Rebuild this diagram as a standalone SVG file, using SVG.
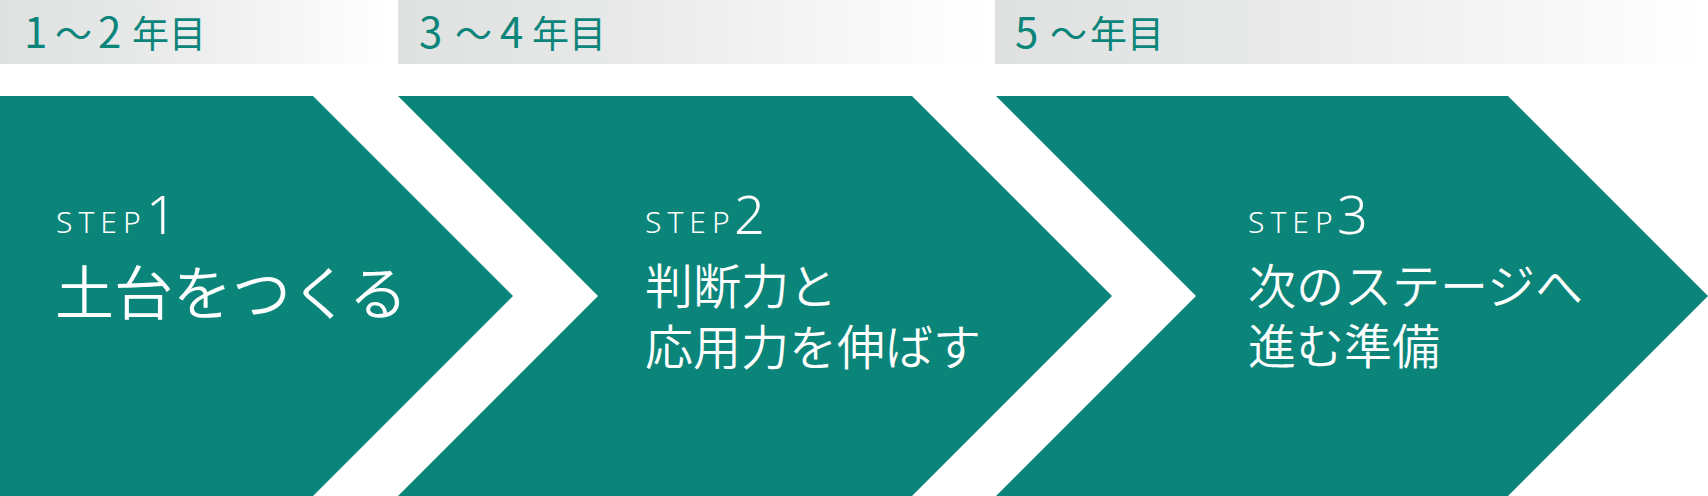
<svg xmlns="http://www.w3.org/2000/svg" width="1708" height="496" viewBox="0 0 1708 496">
<defs>
<linearGradient id="g1" x1="0" y1="0" x2="1" y2="0">
<stop offset="0" stop-color="#dfe1e0"/><stop offset="0.35" stop-color="#e7e9e8"/><stop offset="1" stop-color="#ffffff"/>
</linearGradient>
</defs>
<style>
.chev{fill:#0b857a}
.hdr{fill:#0b857a;font-family:"Noto Sans CJK JP","Noto Sans",sans-serif;font-weight:400}
.dig{font-size:42px}
.kan{font-size:37px}
.step{fill:#fff;font-family:"Noto Sans","Open Sans",sans-serif;font-weight:300;font-size:30px;letter-spacing:6px}
.num{fill:#fff;font-family:"Noto Sans","Open Sans",sans-serif;font-weight:300;font-size:54px}
.ttl{fill:#fff;font-family:"Noto Sans CJK JP",sans-serif;font-weight:350}
</style>
<g id="header1">
<rect x="0" y="0" width="392" height="64" fill="url(#g1)"/>
<text class="hdr" y="48"><tspan class="dig" x="24">1</tspan><tspan class="kan" x="55">～</tspan><tspan class="dig" x="98">2</tspan><tspan class="kan" x="132">年</tspan><tspan class="kan" x="169">目</tspan></text>
</g>
<g id="header2">
<rect x="398" y="0" width="590" height="64" fill="url(#g1)"/>
<text class="hdr" y="48"><tspan class="dig" x="419">3</tspan><tspan class="kan" x="455">～</tspan><tspan class="dig" x="500">4</tspan><tspan class="kan" x="532">年</tspan><tspan class="kan" x="569">目</tspan></text>
</g>
<g id="header3">
<rect x="995" y="0" width="713" height="64" fill="url(#g1)"/>
<text class="hdr" y="48"><tspan class="dig" x="1015">5</tspan><tspan class="kan" x="1050">～</tspan><tspan class="kan" x="1090">年</tspan><tspan class="kan" x="1127">目</tspan></text>
</g>
<g id="step1">
<path class="chev" d="M0,96 H313 L513,296 L313,496 H0 Z"/>
<text class="step" x="56" y="233">STEP</text>
<text class="num" x="146" y="234">1</text>
<text class="ttl" x="55" y="315" font-size="59">土台をつくる</text>
</g>
<g id="step2">
<path class="chev" d="M398,96 H912 L1112,296 L912,496 H398 L598,296 Z"/>
<text class="step" x="645" y="233">STEP</text>
<text class="num" x="734" y="234">2</text>
<text class="ttl" x="645" y="304" font-size="48">判断力と</text>
<text class="ttl" x="645" y="365" font-size="48">応用力を伸ばす</text>
</g>
<g id="step3">
<path class="chev" d="M996,96 H1508 L1708,296 L1508,496 H996 L1196,296 Z"/>
<text class="step" x="1248" y="233">STEP</text>
<text class="num" x="1337" y="234">3</text>
<text class="ttl" x="1248" y="304" font-size="48">次のステージへ</text>
<text class="ttl" x="1248" y="364" font-size="48">進む準備</text>
</g>
<g id="connectors"></g>
</svg>
